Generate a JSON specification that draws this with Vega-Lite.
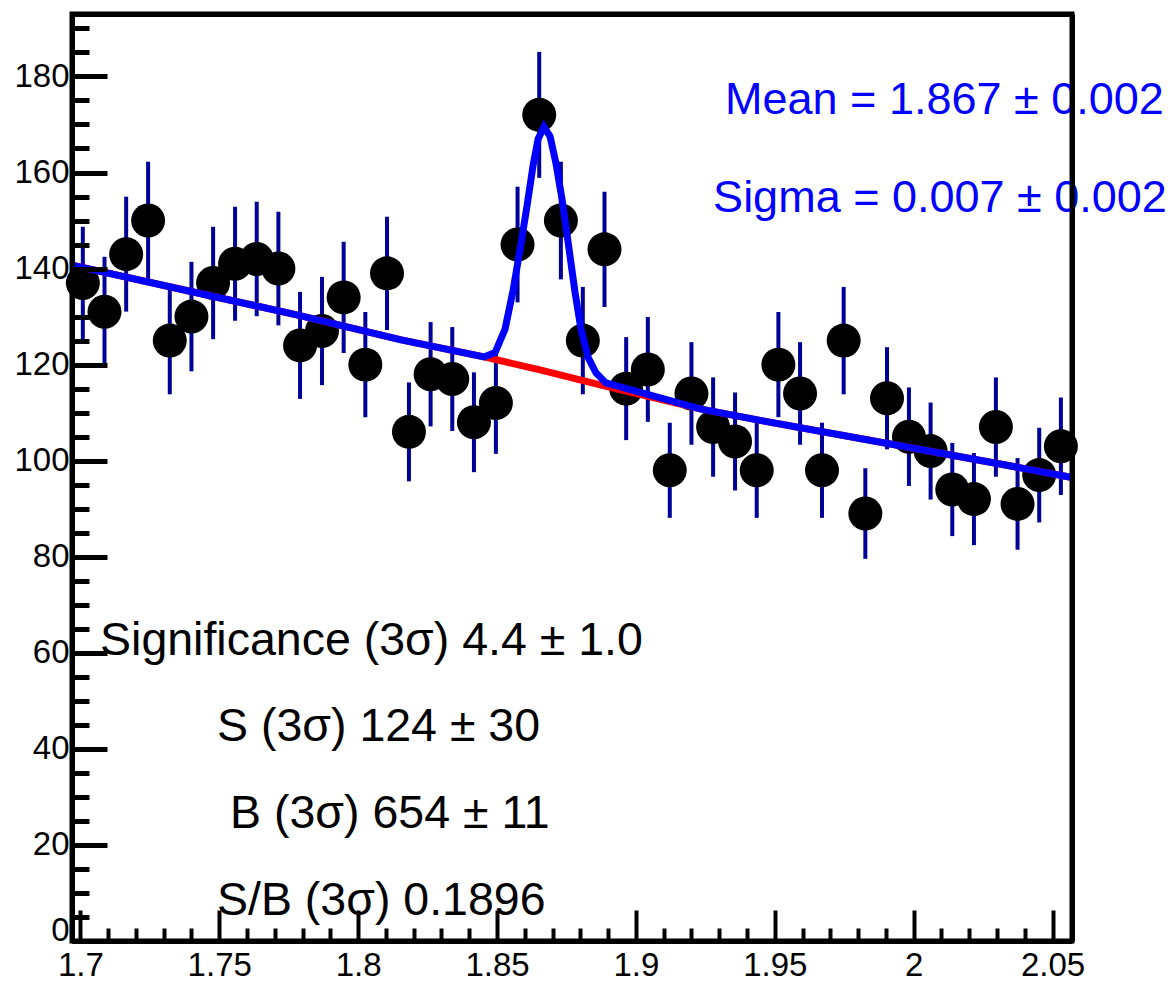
{
  "$schema": "https://vega.github.io/schema/vega-lite/v6.json",
  "width": 1000,
  "height": 927,
  "autosize": {"type": "none"},
  "padding": {"left": 72, "top": 14, "right": 104, "bottom": 41},
  "background": "white",
  "config": {"view": {"stroke": "black", "strokeWidth": 5}},
  "datasets": {
    "hist": [
      {"m": 1.7009, "n": 137, "lo": 125.3, "hi": 148.7},
      {"m": 1.7087, "n": 131, "lo": 119.55, "hi": 142.45},
      {"m": 1.7165, "n": 143, "lo": 131.04, "hi": 154.96},
      {"m": 1.7244, "n": 150, "lo": 137.75, "hi": 162.25},
      {"m": 1.7322, "n": 125, "lo": 113.82, "hi": 136.18},
      {"m": 1.74, "n": 130, "lo": 118.6, "hi": 141.4},
      {"m": 1.7478, "n": 137, "lo": 125.3, "hi": 148.7},
      {"m": 1.7557, "n": 141, "lo": 129.13, "hi": 152.87},
      {"m": 1.7635, "n": 142, "lo": 130.08, "hi": 153.92},
      {"m": 1.7713, "n": 140, "lo": 128.17, "hi": 151.83},
      {"m": 1.7791, "n": 124, "lo": 112.86, "hi": 135.14},
      {"m": 1.787, "n": 127, "lo": 115.73, "hi": 138.27},
      {"m": 1.7948, "n": 134, "lo": 122.42, "hi": 145.58},
      {"m": 1.8026, "n": 120, "lo": 109.05, "hi": 130.95},
      {"m": 1.8104, "n": 139, "lo": 127.21, "hi": 150.79},
      {"m": 1.8183, "n": 106, "lo": 95.7, "hi": 116.3},
      {"m": 1.8261, "n": 118, "lo": 107.14, "hi": 128.86},
      {"m": 1.8339, "n": 117, "lo": 106.18, "hi": 127.82},
      {"m": 1.8417, "n": 108, "lo": 97.61, "hi": 118.39},
      {"m": 1.8496, "n": 112, "lo": 101.42, "hi": 122.58},
      {"m": 1.8574, "n": 145, "lo": 132.96, "hi": 157.04},
      {"m": 1.8652, "n": 172, "lo": 158.89, "hi": 185.11},
      {"m": 1.873, "n": 150, "lo": 137.75, "hi": 162.25},
      {"m": 1.8809, "n": 125, "lo": 113.82, "hi": 136.18},
      {"m": 1.8887, "n": 144, "lo": 132, "hi": 156},
      {"m": 1.8965, "n": 115, "lo": 104.28, "hi": 125.72},
      {"m": 1.9043, "n": 119, "lo": 108.09, "hi": 129.91},
      {"m": 1.9122, "n": 98, "lo": 88.1, "hi": 107.9},
      {"m": 1.92, "n": 114, "lo": 103.32, "hi": 124.68},
      {"m": 1.9278, "n": 107, "lo": 96.66, "hi": 117.34},
      {"m": 1.9357, "n": 104, "lo": 93.8, "hi": 114.2},
      {"m": 1.9435, "n": 98, "lo": 88.1, "hi": 107.9},
      {"m": 1.9513, "n": 120, "lo": 109.05, "hi": 130.95},
      {"m": 1.9591, "n": 114, "lo": 103.32, "hi": 124.68},
      {"m": 1.967, "n": 98, "lo": 88.1, "hi": 107.9},
      {"m": 1.9748, "n": 125, "lo": 113.82, "hi": 136.18},
      {"m": 1.9826, "n": 89, "lo": 79.57, "hi": 98.43},
      {"m": 1.9904, "n": 113, "lo": 102.37, "hi": 123.63},
      {"m": 1.9983, "n": 105, "lo": 94.75, "hi": 115.25},
      {"m": 2.0061, "n": 102, "lo": 91.9, "hi": 112.1},
      {"m": 2.0139, "n": 94, "lo": 84.3, "hi": 103.7},
      {"m": 2.0217, "n": 92, "lo": 82.41, "hi": 101.59},
      {"m": 2.0296, "n": 107, "lo": 96.66, "hi": 117.34},
      {"m": 2.0374, "n": 91, "lo": 81.46, "hi": 100.54},
      {"m": 2.0452, "n": 97, "lo": 87.15, "hi": 106.85},
      {"m": 2.053, "n": 103, "lo": 92.85, "hi": 113.15}
    ],
    "bkg": [
      {"m": 1.697, "f": 140.7},
      {"m": 1.7431, "f": 134.8},
      {"m": 1.7791, "f": 130.2},
      {"m": 1.8151, "f": 125.2},
      {"m": 1.8453, "f": 121.6},
      {"m": 1.8655, "f": 118.9},
      {"m": 1.8871, "f": 115.8},
      {"m": 1.9231, "f": 110.8},
      {"m": 1.9447, "f": 108.4},
      {"m": 1.9951, "f": 103.1},
      {"m": 2.0311, "f": 99.3},
      {"m": 2.057, "f": 96.5}
    ],
    "fit": [
      {"m": 1.697, "f": 140.7},
      {"m": 1.7431, "f": 134.8},
      {"m": 1.7791, "f": 130.2},
      {"m": 1.8151, "f": 125.2},
      {"m": 1.8453, "f": 121.6},
      {"m": 1.8493, "f": 122.5},
      {"m": 1.8529, "f": 127.4},
      {"m": 1.8558, "f": 135.5},
      {"m": 1.8583, "f": 144},
      {"m": 1.8608, "f": 153},
      {"m": 1.863, "f": 161.5},
      {"m": 1.8648, "f": 167},
      {"m": 1.8669, "f": 169.5},
      {"m": 1.8691, "f": 167.5},
      {"m": 1.8712, "f": 162},
      {"m": 1.8734, "f": 154.5},
      {"m": 1.8756, "f": 145.5},
      {"m": 1.8781, "f": 135},
      {"m": 1.8802, "f": 127.5},
      {"m": 1.8828, "f": 121.5},
      {"m": 1.8856, "f": 118.3},
      {"m": 1.8892, "f": 116.2},
      {"m": 1.9231, "f": 110.8},
      {"m": 1.9447, "f": 108.4},
      {"m": 1.9951, "f": 103.1},
      {"m": 2.0311, "f": 99.3},
      {"m": 2.057, "f": 96.5}
    ],
    "pars": [
      {"t": "Mean = 1.867 ± 0.002", "m": 1.9321, "v": 172.2},
      {"t": "Sigma = 0.007 ± 0.002", "m": 1.9278, "v": 151.8}
    ],
    "yields": [
      {"t": "Significance (3σ) 4.4 ± 1.0", "m": 1.7071, "v": 59.6},
      {"t": "S (3σ) 124 ± 30", "m": 1.7492, "v": 41.6},
      {"t": "B (3σ) 654 ± 11", "m": 1.7539, "v": 23.6},
      {"t": "S/B (3σ) 0.1896", "m": 1.7492, "v": 5.4}
    ]
  },
  "layer": [
    {
      "data": {"name": "hist"},
      "mark": {"type": "rule", "color": "#000099", "strokeWidth": 4},
      "encoding": {
        "x": {
          "field": "m", "type": "quantitative",
          "scale": {"domain": [1.697, 2.057], "nice": false, "zero": false},
          "axis": {
            "orient": "bottom", "title": null, "grid": false,
            "values": [1.7, 1.75, 1.8, 1.85, 1.9, 1.95, 2, 2.05],
            "format": "~g", "labelFlush": false,
            "domain": true, "domainColor": "black", "domainWidth": 5,
            "ticks": true, "tickSize": -31, "tickWidth": 4, "tickColor": "black",
            "labelFont": "Liberation Sans, Arial, sans-serif",
            "labelFontSize": 33, "labelColor": "black", "labelPadding": 39,
            "zindex": 1
          }
        },
        "y": {
          "field": "lo", "type": "quantitative",
          "scale": {"domain": [0, 193], "nice": false, "zero": false},
          "axis": {
            "orient": "left", "title": null, "grid": false,
            "values": [0, 20, 40, 60, 80, 100, 120, 140, 160, 180],
            "format": "d",
            "domain": true, "domainColor": "black", "domainWidth": 5,
            "ticks": true, "tickSize": -35, "tickWidth": 5, "tickColor": "black",
            "labelFont": "Liberation Sans, Arial, sans-serif",
            "labelFontSize": 33, "labelColor": "black", "labelPadding": 38,
            "labelOffset": {"condition": {"test": "datum.value == 0", "value": -11}, "value": 0},
            "labelFlush": false,
            "zindex": 1
          }
        },
        "y2": {"field": "hi"}
      }
    },
    {
      "data": {"name": "hist"},
      "mark": {"type": "point", "shape": "circle", "filled": true, "color": "black", "opacity": 1, "size": 1156},
      "encoding": {
        "x": {
          "field": "m", "type": "quantitative",
          "scale": {"domain": [1.697, 2.057], "nice": false, "zero": false},
          "axis": {
            "orient": "bottom", "title": null, "grid": false, "labels": false, "domain": false,
            "values": [1.71, 1.72, 1.73, 1.74, 1.76, 1.77, 1.78, 1.79, 1.81, 1.82, 1.83, 1.84, 1.86, 1.87, 1.88, 1.89, 1.91, 1.92, 1.93, 1.94, 1.96, 1.97, 1.98, 1.99, 2.01, 2.02, 2.03, 2.04],
            "ticks": true, "tickSize": -13, "tickWidth": 4, "tickColor": "black",
            "zindex": 1
          }
        },
        "y": {
          "field": "n", "type": "quantitative",
          "scale": {"domain": [0, 193], "nice": false, "zero": false},
          "axis": {
            "orient": "left", "title": null, "grid": false, "labels": false, "domain": false,
            "values": [5, 10, 15, 25, 30, 35, 45, 50, 55, 65, 70, 75, 85, 90, 95, 105, 110, 115, 125, 130, 135, 145, 150, 155, 165, 170, 175, 185, 190],
            "ticks": true, "tickSize": -17, "tickWidth": 5, "tickColor": "black",
            "zindex": 1
          }
        }
      }
    },
    {
      "data": {"name": "bkg"},
      "mark": {"type": "line", "color": "#ff0000", "strokeWidth": 7, "interpolate": "linear"},
      "encoding": {
        "x": {
          "field": "m", "type": "quantitative",
          "scale": {"domain": [1.697, 2.057], "nice": false, "zero": false},
          "axis": {
            "orient": "top", "title": null, "grid": false, "labels": false, "ticks": false,
            "domain": true, "domainColor": "black", "domainWidth": 5, "zindex": 1
          }
        },
        "y": {
          "field": "f", "type": "quantitative",
          "scale": {"domain": [0, 193], "nice": false, "zero": false},
          "axis": {
            "orient": "right", "title": null, "grid": false, "labels": false, "ticks": false,
            "domain": true, "domainColor": "black", "domainWidth": 5, "zindex": 1
          }
        }
      }
    },
    {
      "data": {"name": "fit"},
      "mark": {"type": "line", "color": "#0000ff", "strokeWidth": 7, "interpolate": "linear"},
      "encoding": {
        "x": {"field": "m", "type": "quantitative", "scale": {"domain": [1.697, 2.057], "nice": false, "zero": false}, "axis": null},
        "y": {"field": "f", "type": "quantitative", "scale": {"domain": [0, 193], "nice": false, "zero": false}, "axis": null}
      }
    },
    {
      "data": {"name": "pars"},
      "mark": {"type": "text", "align": "left", "baseline": "alphabetic", "color": "#0000ff",
               "font": "Liberation Sans, Arial, sans-serif", "fontSize": 45},
      "encoding": {
        "x": {"field": "m", "type": "quantitative", "scale": {"domain": [1.697, 2.057], "nice": false, "zero": false}, "axis": null},
        "y": {"field": "v", "type": "quantitative", "scale": {"domain": [0, 193], "nice": false, "zero": false}, "axis": null},
        "text": {"field": "t"}
      }
    },
    {
      "data": {"name": "yields"},
      "mark": {"type": "text", "align": "left", "baseline": "alphabetic", "color": "black",
               "font": "Liberation Sans, Arial, sans-serif", "fontSize": 46.5},
      "encoding": {
        "x": {"field": "m", "type": "quantitative", "scale": {"domain": [1.697, 2.057], "nice": false, "zero": false}, "axis": null},
        "y": {"field": "v", "type": "quantitative", "scale": {"domain": [0, 193], "nice": false, "zero": false}, "axis": null},
        "text": {"field": "t"}
      }
    }
  ],
  "resolve": {"axis": {"x": "independent", "y": "independent"}}
}
